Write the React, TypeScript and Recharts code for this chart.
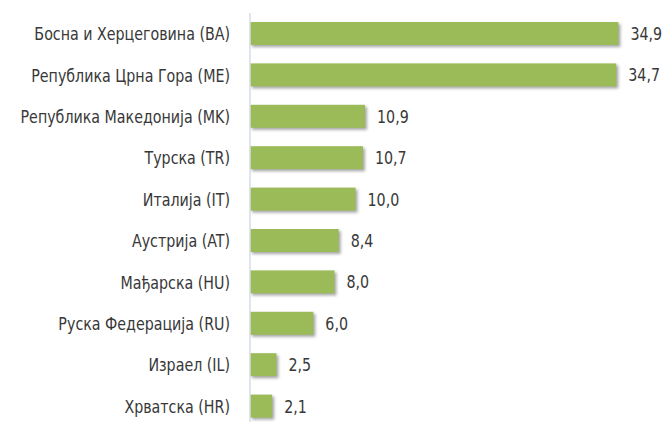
import { BarChart, Bar, XAxis, YAxis, LabelList } from "recharts";

const countries = [
  "Босна и Херцеговина (BA)",
  "Република Црна Гора (ME)",
  "Република Македонија (MK)",
  "Турска (TR)",
  "Италија (IT)",
  "Аустрија (AT)",
  "Мађарска (HU)",
  "Руска Федерација (RU)",
  "Израел (IL)",
  "Хрватска (HR)",
];
const shares = [34.9, 34.7, 10.9, 10.7, 10.0, 8.4, 8.0, 6.0, 2.5, 2.1];

const data = countries.map((name, i) => ({ name, value: shares[i] }));

const FONT = "'DejaVu Sans Condensed', 'Liberation Sans Narrow', sans-serif";
const TEXT = "#383838";

// narrow font look: draw text slightly squeezed horizontally
const NarrowTick = (props: any) => {
  const { x, y, payload } = props;
  return (
    <text
      transform={`translate(${x},${y}) scale(0.88,1)`}
      textAnchor="end"
      dy="0.36em"
      fill={TEXT}
      fontSize={18}
      fontFamily={FONT}
    >
      {payload.value}
    </text>
  );
};

const ValueLabel = (props: any) => {
  const { x, y, width, height, value } = props;
  const lx = x + width + 12;
  const ly = y + height / 2;
  return (
    <text
      transform={`translate(${lx},${ly}) scale(0.88,1)`}
      textAnchor="start"
      dy="0.36em"
      fill={TEXT}
      fontSize={18}
      fontFamily={FONT}
    >
      {Number(value).toFixed(1).replace(".", ",")}
    </text>
  );
};

const ShadowBar = (props: any) => {
  const { x, y, width, height } = props;
  return (
    <rect
      x={x}
      y={y}
      width={width}
      height={height}
      fill="#9bbb59"
      style={{ filter: "drop-shadow(2px 2px 1.5px rgba(0,0,0,0.35))" }}
    />
  );
};

export default function App() {
  return (
    <div style={{ position: "absolute", left: 0, top: 0, width: 667, height: 422, overflow: "hidden", background: "#fff" }}>
      <BarChart
        width={667}
        height={430}
        data={data}
        layout="vertical"
        margin={{ top: 13, right: 37, left: 0, bottom: 3 }}
        barSize={23}
      >
        <XAxis type="number" domain={[0, 36]} hide />
        <YAxis
          type="category"
          dataKey="name"
          width={250}
          axisLine={{ stroke: "#d3dde9", strokeWidth: 1.5 }}
          tickLine={false}
          tickMargin={14}
          tick={<NarrowTick />}
        />
        <Bar dataKey="value" shape={<ShadowBar />} isAnimationActive={false}>
          <LabelList dataKey="value" content={<ValueLabel />} />
        </Bar>
      </BarChart>
    </div>
  );
}
